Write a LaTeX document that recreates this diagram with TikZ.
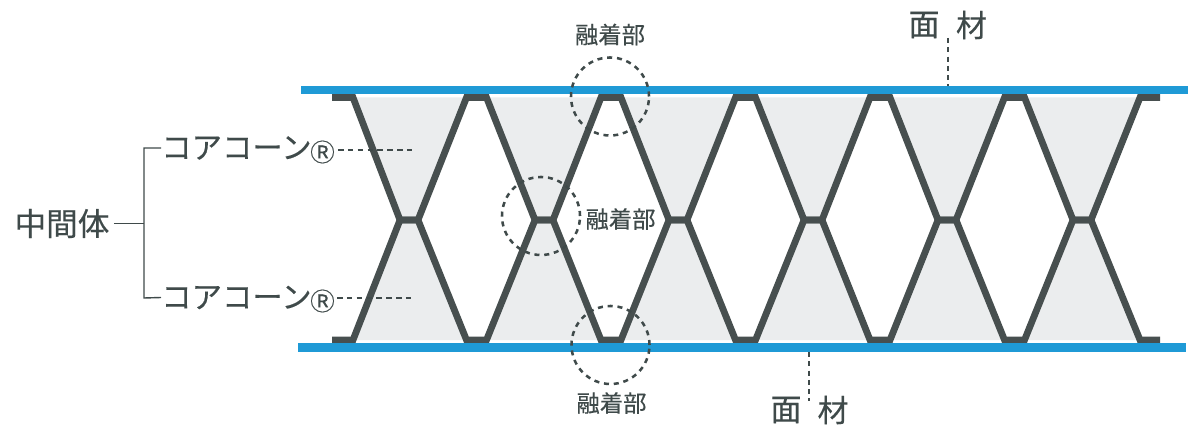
\documentclass[tikz,border=0pt]{standalone}
\usepackage{fontspec}
\setmainfont{Noto Sans CJK JP}[FakeBold=0.35]
\definecolor{ink}{HTML}{3F4A4A}
\definecolor{web}{HTML}{474F4F}
\definecolor{cell}{HTML}{EBEDEE}
\definecolor{sheet}{HTML}{1F9AD6}
\tikzset{
  px/.style={x=0.025cm,y=-0.025cm},
  webline/.style={draw=web,line width=4.8pt,line join=miter,line cap=butt},
  cellfill/.style={fill=cell,draw=none},
  sheetline/.style={draw=sheet,line width=6.2pt},
  ring/.style={draw=ink,line width=1.8pt,dash pattern=on 3.6pt off 3.4pt,circle,inner sep=0pt,minimum size=1.95cm},
  leaddash/.style={draw=ink,line width=1.2pt,dash pattern=on 4pt off 3pt},
  sheetdash/.style={draw=ink,line width=1.9pt,dash pattern=on 3.6pt off 3pt},
  bracket/.style={draw=ink,line width=1pt},
  small/.style={text=ink,font=\fontsize{16.6pt}{18pt}\selectfont,inner sep=0pt},
  big/.style={text=ink,font=\fontsize{22pt}{24pt}\selectfont,inner sep=0pt},
  core/.style={text=ink,font=\fontsize{21.6pt}{23pt}\selectfont,inner sep=0pt,anchor=west},
  midlabel/.style={text=ink,font=\fontsize{22.5pt}{24pt}\selectfont,inner sep=0pt},
  reg/.style={text=ink,font=\fontsize{17.5pt}{19pt}\selectfont,inner sep=0pt},
}
\begin{document}
\begin{tikzpicture}[px]
\useasboundingbox (0,0) rectangle (1200,432);
% grey cells
\foreach \a/\b/\c/\d in {353/400/418/466.5,486.5/535/553/601,621/669/687/735.5,755.5/804/822/870,890/938/956/1004.5,1024.5/1073/1091/1140}{
  \path[cellfill] (\a,97.5) -- (\b,220) -- (\c,220) -- (\d,97.5) -- cycle;
  \path[cellfill] (\a,340) -- (\b,220) -- (\c,220) -- (\d,340) -- cycle;
}
% webs
\foreach \y in {97.5,340}{
  \draw[webline] (332,\y) -- (353,\y) -- (400,220) -- (418,220) -- (466.5,\y) -- (486.5,\y)
    -- (535,220) -- (553,220) -- (601,\y) -- (621,\y) -- (669,220) -- (687,220)
    -- (735.5,\y) -- (755.5,\y) -- (804,220) -- (822,220) -- (870,\y) -- (890,\y)
    -- (938,220) -- (956,220) -- (1004.5,\y) -- (1024.5,\y) -- (1073,220) -- (1091,220)
    -- (1140,\y) -- (1160,\y);
}
% face sheets
\coordinate (t1) at (301,90); \coordinate (t2) at (1188,90);
\coordinate (b1) at (298,347.5); \coordinate (b2) at (1186,347.5);
\draw[sheetline] (t1) -- (t2);
\draw[sheetline] (b1) -- (b2);
% rings
\node[ring] (r1) at (610,96.5) {};
\node[ring] (r2) at (541,216) {};
\node[ring] (r3) at (610.5,345) {};
% labels
\node[small] (l1) at (610,34.5) {融着部};
\node[small] (l2) at (620.5,219) {融着部};
\node[small] (l3) at (611.5,403) {融着部};
\node[big] (f1a) at (924,25) {面};
\node[big] (f1b) at (971.5,25) {材};
\node[big] (f2a) at (786,410) {面};
\node[big] (f2b) at (833,410) {材};
\coordinate (d1a) at (948,38); \coordinate (d1b) at (948,86);
\coordinate (d2a) at (809,352); \coordinate (d2b) at (809,401);
\draw[sheetdash] (d1a) -- (d1b);
\draw[sheetdash] (d2a) -- (d2b);
% left tree
\node[midlabel] (mid) at (62,223.5) {中間体};
\node[core] (c1) at (161,148) {コアコーン};
\node[core] (c2) at (161,297.5) {コアコーン};
\node[reg] (g1) at (322.5,152) {Ⓡ};
\node[reg] (g2) at (322.5,301) {Ⓡ};
\coordinate (j) at (144,223.5);
\coordinate (jt) at (144,148);
\coordinate (jb) at (144,298);
\draw[bracket] ([xshift=3pt]mid.east) -- (j);
\draw[bracket] (c1.west) -- (jt) -- (jb) -- (c2.west);
\coordinate (s1) at (338,150); \coordinate (e1) at (412,150);
\coordinate (s2) at (337,298); \coordinate (e2) at (411,298);
\draw[leaddash] (s1) -- (e1);
\draw[leaddash] (s2) -- (e2);
\end{tikzpicture}
\end{document}
